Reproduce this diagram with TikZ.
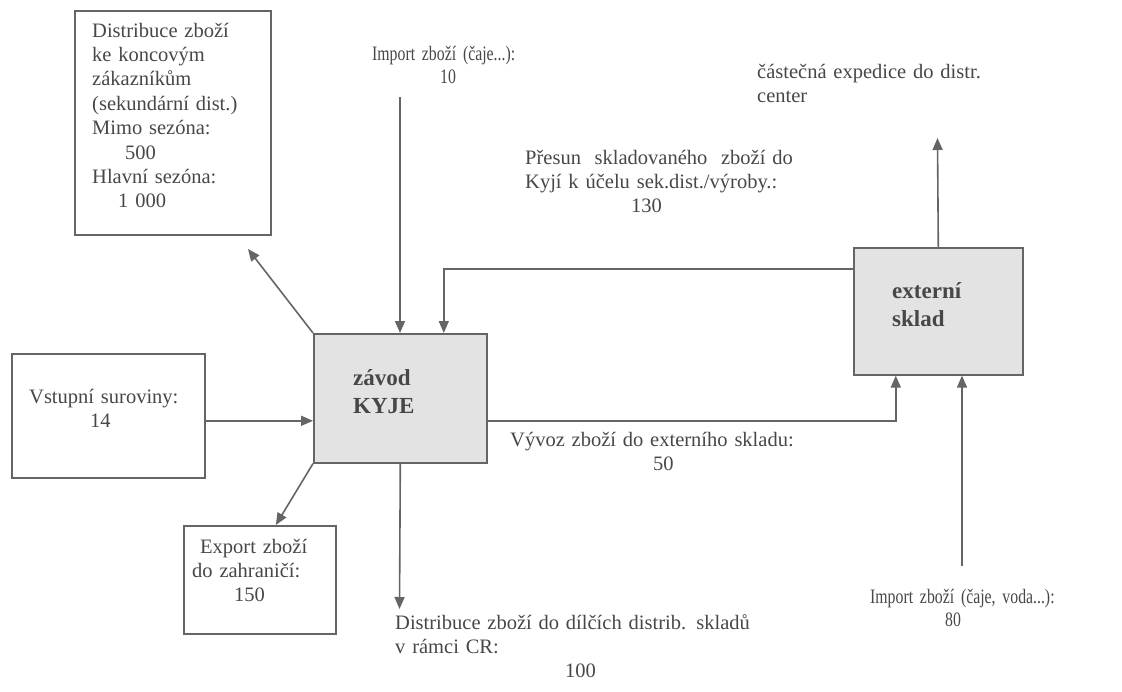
\documentclass[tikz,border=0pt]{standalone}
\usepackage{fontspec}
\setmainfont{Liberation Serif}
\newfontfamily\condfont[FakeStretch=0.77]{Liberation Serif}
\usetikzlibrary{arrows.meta}
\definecolor{ln}{HTML}{656565}
\definecolor{tx}{HTML}{474747}
\definecolor{fillg}{HTML}{E3E3E3}
\begin{document}
\begin{tikzpicture}[x=1pt,y=-1pt,
  box/.style={draw=ln,line width=1.6pt,inner sep=0pt,anchor=north west},
  gbox/.style={box,fill=fillg},
  lbl/.style={font=\fontsize{20.5}{24.4}\selectfont,text=tx,inner sep=0pt,anchor=base west,text width=#1,align=left},
  cond/.style={lbl=#1,font=\condfont\fontsize{20.5}{23}\selectfont},
  bold/.style={font=\fontsize{23}{28.5}\selectfont\bfseries,text=tx,inner sep=0pt,anchor=base west,text width=#1,align=left},
  conn/.style={draw=ln,line width=1.6pt},
  arr/.style={conn,-{Triangle[length=12pt,width=10pt]}}]
\useasboundingbox (0,0) rectangle (1122,691);

% boxes
\node[box,minimum width=196pt,minimum height=224pt] (b1) at (74,10) {};
\node[gbox,minimum width=173pt,minimum height=129pt] (kyje) at (313,333) {};
\node[gbox,minimum width=169pt,minimum height=127pt] (sklad) at (853,247) {};
\node[box,minimum width=193pt,minimum height=124pt] (vst) at (11,353) {};
\node[box,minimum width=152pt,minimum height=108pt] (exp) at (183,525) {};

% texts inside boxes
\node[lbl=170pt] (t1) at (92,37) {Distribuce zboží\\ke koncovým\\zákazníkům\\(sekundární dist.)\\Mimo sezóna:\\\hspace*{33pt}500\\Hlavní sezóna:\\\hspace*{26pt}1 000};
\node[bold=120pt] (tk) at (353,385) {závod\\KYJE};
\node[bold=120pt] (ts) at (892,298) {externí\\sklad};
\node[lbl=180pt] (tv) at (29,403) {Vstupní suroviny:\\\hspace*{61pt}14};
\node[lbl=140pt] (te) at (192,553) {\hspace*{8pt}Export zboží\\do zahraničí:\\\hspace*{42pt}150};

% free labels
\node[cond=200pt] (t10) at (372,60) {Import zboží (čaje...):\\\hspace*{68pt}10};
\node[lbl=260pt] (tx1) at (757,78) {částečná expedice do distr.\\center};
\node[lbl=320pt] (t130) at (525,164) {Přesun~ skladovaného~ zboží do\\Kyjí k účelu sek.dist./výroby.:\\\hspace*{106pt}130};
\node[lbl=320pt] (t50) at (510,446) {Vývoz zboží do externího skladu:\\\hspace*{143pt}50};
\node[lbl=380pt] (t100) at (395,629) {Distribuce zboží do dílčích distrib. skladů\\v rámci CR:\\\hspace*{170pt}100};
\node[cond=240pt] (t80) at (870,603) {Import zboží (čaje, voda...):\\\hspace*{75pt}80};

% free ends
\coordinate (c1) at (248,249);
\coordinate (c10) at (400,97);
\coordinate (c80) at (962,566);
\coordinate (cexp) at (937.5,138);
\coordinate (c100) at (399.5,609);

% connectors
\draw[arr] ([yshift=-5pt]vst.east) -- ([yshift=-5pt]vst.east -| kyje.west);
\draw[arr] (kyje.north west) -- (c1);
\draw[arr] (kyje.south west) -- ([xshift=16pt]exp.north);
\draw[arr] (c10) -- (c10 |- kyje.north);
\draw[arr] ([yshift=42.5pt]sklad.west) -| ([xshift=43.5pt]kyje.north);
\draw[arr] ([yshift=-22.5pt]kyje.east) -| ([xshift=-42.5pt]sklad.south);
\draw[arr] (c80) -- (c80 |- sklad.south);
\draw[arr] (sklad.north) -- (cexp);
\draw[arr] (kyje.south) -- (c100);
\end{tikzpicture}
\end{document}
